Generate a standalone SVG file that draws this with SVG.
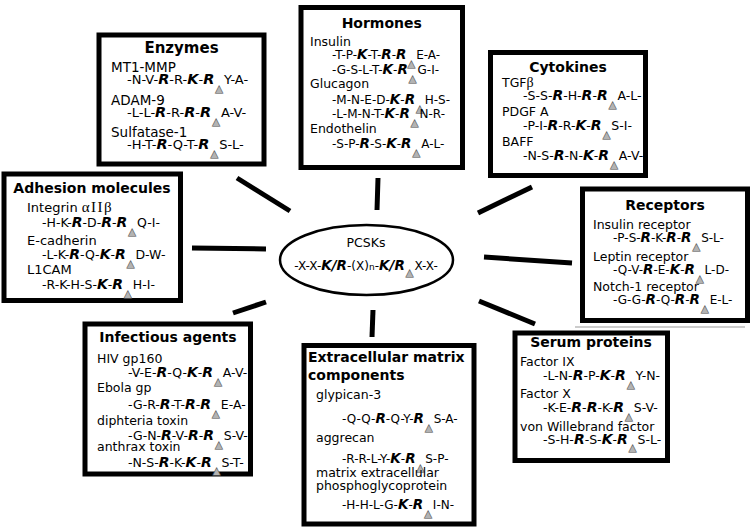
<svg xmlns="http://www.w3.org/2000/svg" width="750" height="530" viewBox="0 0 750 530">
<style>
.box{fill:#fff;stroke:#000;stroke-width:5}
.t{font-family:"DejaVu Sans",sans-serif;font-weight:bold;font-size:14px;text-anchor:middle;fill:#000}
.tl{font-family:"DejaVu Sans",sans-serif;font-weight:bold;font-size:14px;fill:#000}
.n{font-family:"DejaVu Sans",sans-serif;font-size:12.5px;fill:#000}
.s{font-family:"DejaVu Sans",sans-serif;font-size:12px;fill:#000}
.b{font-weight:bold;font-style:italic;font-size:13.5px}
.cs{font-size:10px;fill:#b3b3b3;stroke:#555;stroke-width:0.6}
.gr{font-family:"Liberation Serif",serif}
.con line{stroke:#000;stroke-width:5}
#enzymes .t{font-size:15px}
#enzymes .n{font-size:13.5px}
#enzymes .s{font-size:13px}
#enzymes .b{font-size:14.5px}
#cytokines .s,#adhesion .s,#infectious .s,#serum .s{font-size:12.5px}
#cytokines .b,#adhesion .b,#infectious .b,#serum .b{font-size:14px}
#adhesion .n{font-size:13px}
</style>
<rect width="750" height="530" fill="#fff"/>
<g class="con" id="connectors">
<line x1="237" y1="178" x2="290" y2="211"/>
<line x1="378" y1="178" x2="377" y2="210"/>
<line x1="532" y1="187" x2="478" y2="213"/>
<line x1="192" y1="248" x2="266" y2="249"/>
<line x1="484" y1="257" x2="572" y2="263"/>
<line x1="233" y1="313" x2="266" y2="302"/>
<line x1="373" y1="310" x2="372" y2="337"/>
<line x1="479" y1="301" x2="535" y2="324"/>
</g>
<g id="pcsks">
<ellipse cx="366.5" cy="260" rx="86.5" ry="35" fill="#fff" stroke="#000" stroke-width="2.5"/>
<text class="n" x="366" y="247" text-anchor="middle">PCSKs</text>
<text class="s" x="366" y="270" text-anchor="middle">-X-X-<tspan class="b" font-size="13px">K/R</tspan>-(X)<tspan font-size="9px">n</tspan>-<tspan class="b" font-size="13px">K/R</tspan><tspan class="cs" dx="1" dy="6">▲</tspan><tspan dx="1" dy="-6">X-X-</tspan></text>
</g>
<g id="enzymes">
<rect class="box" x="99" y="35" width="165" height="129"/>
<text class="t" x="181.5" y="53">Enzymes</text>
<text class="n" x="111" y="72">MT1-MMP</text>
<text class="s" x="127" y="84">-N-V-<tspan class="b">R</tspan>-R-<tspan class="b">K</tspan>-<tspan class="b">R</tspan><tspan class="cs" dx="1" dy="8">▲</tspan><tspan dx="1" dy="-8">Y-A-</tspan></text>
<text class="n" x="111" y="105">ADAM-9</text>
<text class="s" x="127" y="117">-L-L-<tspan class="b">R</tspan>-R-<tspan class="b">R</tspan>-<tspan class="b">R</tspan><tspan class="cs" dx="1" dy="8">▲</tspan><tspan dx="1" dy="-8">A-V-</tspan></text>
<text class="n" x="111" y="137">Sulfatase-1</text>
<text class="s" x="127" y="149">-H-T-<tspan class="b">R</tspan>-Q-T-<tspan class="b">R</tspan><tspan class="cs" dx="1" dy="8">▲</tspan><tspan dx="1" dy="-8">S-L-</tspan></text>
</g>
<g id="hormones">
<rect class="box" x="301" y="7.5" width="161.5" height="160"/>
<text class="t" x="381.75" y="28">Hormones</text>
<text class="n" x="310" y="46">Insulin</text>
<text class="s" x="332" y="59">-T-P-<tspan class="b">K</tspan>-T-<tspan class="b">R</tspan>-<tspan class="b">R</tspan><tspan class="cs" dx="1" dy="8">▲</tspan><tspan dx="1" dy="-8">E-A-</tspan></text>
<text class="s" x="332" y="74">-G-S-L-T-<tspan class="b">K</tspan>-<tspan class="b">R</tspan><tspan class="cs" dx="1" dy="8">▲</tspan><tspan dx="1" dy="-8">G-I-</tspan></text>
<text class="n" x="310" y="88">Glucagon</text>
<text class="s" x="332" y="104">-M-N-E-D-<tspan class="b">K</tspan>-<tspan class="b">R</tspan><tspan class="cs" dx="1" dy="8">▲</tspan><tspan dx="1" dy="-8">H-S-</tspan></text>
<text class="s" x="332" y="118">-L-M-N-T-<tspan class="b">K</tspan>-<tspan class="b">R</tspan><tspan class="cs" dx="1" dy="8">▲</tspan><tspan dx="1" dy="-8">N-R-</tspan></text>
<text class="n" x="310" y="133">Endothelin</text>
<text class="s" x="332" y="148">-S-P-<tspan class="b">R</tspan>-S-<tspan class="b">K</tspan>-<tspan class="b">R</tspan><tspan class="cs" dx="1" dy="8">▲</tspan><tspan dx="1" dy="-8">A-L-</tspan></text>
</g>
<g id="cytokines">
<rect class="box" x="490.5" y="52.5" width="155" height="123"/>
<text class="t" x="568" y="72">Cytokines</text>
<text class="n" x="502" y="87">TGF<tspan class="gr" font-size="14px">β</tspan></text>
<text class="s" x="523" y="100">-S-S-<tspan class="b">R</tspan>-H-<tspan class="b">R</tspan>-<tspan class="b">R</tspan><tspan class="cs" dx="1" dy="8">▲</tspan><tspan dx="1" dy="-8">A-L-</tspan></text>
<text class="n" x="502" y="116">PDGF A</text>
<text class="s" x="523" y="130">-P-I-<tspan class="b">R</tspan>-R-<tspan class="b">K</tspan>-<tspan class="b">R</tspan><tspan class="cs" dx="1" dy="8">▲</tspan><tspan dx="1" dy="-8">S-I-</tspan></text>
<text class="n" x="502" y="146">BAFF</text>
<text class="s" x="523" y="160">-N-S-<tspan class="b">R</tspan>-N-<tspan class="b">K</tspan>-<tspan class="b">R</tspan><tspan class="cs" dx="1" dy="8">▲</tspan><tspan dx="1" dy="-8">A-V-</tspan></text>
</g>
<g id="adhesion">
<rect class="box" x="4" y="174" width="176.5" height="126.5"/>
<text class="t" x="92" y="193">Adhesion molecules</text>
<text class="n" x="27" y="212">Integrin <tspan class="gr" font-size="15px" letter-spacing="1.5">αIIβ</tspan></text>
<text class="s" x="42" y="227">-H-K-<tspan class="b">R</tspan>-D-<tspan class="b">R</tspan>-<tspan class="b">R</tspan><tspan class="cs" dx="1" dy="8">▲</tspan><tspan dx="1" dy="-8">Q-I-</tspan></text>
<text class="n" x="27" y="245">E-cadherin</text>
<text class="s" x="42" y="259">-L-K-<tspan class="b">R</tspan>-Q-<tspan class="b">K</tspan>-<tspan class="b">R</tspan><tspan class="cs" dx="1" dy="8">▲</tspan><tspan dx="1" dy="-8">D-W-</tspan></text>
<text class="n" x="27" y="274">L1CAM</text>
<text class="s" x="42" y="289">-R-K-H-S-<tspan class="b">K</tspan>-<tspan class="b">R</tspan><tspan class="cs" dx="1" dy="8">▲</tspan><tspan dx="1" dy="-8">H-I-</tspan></text>
</g>
<g id="receptors">
<rect class="box" x="582.5" y="189" width="165" height="131.5"/>
<line x1="575" y1="327" x2="745" y2="327" stroke="#999" stroke-width="1"/>
<text class="t" x="665" y="210">Receptors</text>
<text class="n" x="593" y="229">Insulin receptor</text>
<text class="s" x="613" y="242">-P-S-<tspan class="b">R</tspan>-K-<tspan class="b">R</tspan>-<tspan class="b">R</tspan><tspan class="cs" dx="1" dy="8">▲</tspan><tspan dx="1" dy="-8">S-L-</tspan></text>
<text class="n" x="593" y="261">Leptin receptor</text>
<text class="s" x="613" y="274">-Q-V-<tspan class="b">R</tspan>-E-<tspan class="b">K</tspan>-<tspan class="b">R</tspan><tspan class="cs" dx="1" dy="8">▲</tspan><tspan dx="1" dy="-8">L-D-</tspan></text>
<text class="n" x="593" y="291">Notch-1 receptor</text>
<text class="s" x="613" y="304">-G-G-<tspan class="b">R</tspan>-Q-<tspan class="b">R</tspan>-<tspan class="b">R</tspan><tspan class="cs" dx="1" dy="8">▲</tspan><tspan dx="1" dy="-8">E-L-</tspan></text>
</g>
<g id="infectious">
<rect class="box" x="85" y="324" width="165.5" height="150"/>
<text class="t" x="168" y="342">Infectious agents</text>
<text class="n" x="97" y="363">HIV gp160</text>
<text class="s" x="128" y="377">-V-E-<tspan class="b">R</tspan>-Q-<tspan class="b">K</tspan>-<tspan class="b">R</tspan><tspan class="cs" dx="1" dy="8">▲</tspan><tspan dx="1" dy="-8">A-V-</tspan></text>
<text class="n" x="97" y="392">Ebola gp</text>
<text class="s" x="128" y="409">-G-R-<tspan class="b">R</tspan>-T-<tspan class="b">R</tspan>-<tspan class="b">R</tspan><tspan class="cs" dx="1" dy="8">▲</tspan><tspan dx="1" dy="-8">E-A-</tspan></text>
<text class="n" x="97" y="425">diphteria toxin</text>
<text class="s" x="128" y="440">-G-N-<tspan class="b">R</tspan>-V-<tspan class="b">R</tspan>-<tspan class="b">R</tspan><tspan class="cs" dx="1" dy="8">▲</tspan><tspan dx="1" dy="-8">S-V-</tspan></text>
<text class="n" x="97" y="451">anthrax toxin</text>
<text class="s" x="128" y="467">-N-S-<tspan class="b">R</tspan>-K-<tspan class="b">K</tspan>-<tspan class="b">R</tspan><tspan class="cs" dx="1" dy="7">▲</tspan><tspan dx="1" dy="-7">S-T-</tspan></text>
</g>
<g id="extracellular">
<rect class="box" x="304" y="345.5" width="170" height="178.5"/>
<text class="tl" x="308" y="362">Extracellular matrix</text>
<text class="tl" x="308" y="380">components</text>
<text class="n" x="316" y="399">glypican-3</text>
<text class="s" x="342" y="423">-Q-Q-<tspan class="b">R</tspan>-Q-Y-<tspan class="b">R</tspan><tspan class="cs" dx="1" dy="8">▲</tspan><tspan dx="1" dy="-8">S-A-</tspan></text>
<text class="n" x="316" y="442">aggrecan</text>
<text class="s" x="342" y="463">-R-R-L-Y-<tspan class="b">K</tspan>-<tspan class="b">R</tspan><tspan class="cs" dx="1" dy="8">▲</tspan><tspan dx="1" dy="-8">S-P-</tspan></text>
<text class="n" x="316" y="477">matrix extracellular</text>
<text class="n" x="316" y="490">phosphoglycoprotein</text>
<text class="s" x="342" y="509">-H-H-L-G-<tspan class="b">K</tspan>-<tspan class="b">R</tspan><tspan class="cs" dx="1" dy="8">▲</tspan><tspan dx="1" dy="-8">I-N-</tspan></text>
</g>
<g id="serum">
<rect class="box" x="515" y="333" width="152.5" height="127.5"/>
<text class="t" x="591" y="347">Serum proteins</text>
<text class="n" x="520" y="366">Factor IX</text>
<text class="s" x="543" y="380">-L-N-<tspan class="b">R</tspan>-P-<tspan class="b">K</tspan>-<tspan class="b">R</tspan><tspan class="cs" dx="1" dy="8">▲</tspan><tspan dx="1" dy="-8">Y-N-</tspan></text>
<text class="n" x="520" y="398">Factor X</text>
<text class="s" x="543" y="412">-K-E-<tspan class="b">R</tspan>-<tspan class="b">R</tspan>-K-<tspan class="b">R</tspan><tspan class="cs" dx="1" dy="8">▲</tspan><tspan dx="1" dy="-8">S-V-</tspan></text>
<text class="n" x="520" y="431">von Willebrand factor</text>
<text class="s" x="543" y="444">-S-H-<tspan class="b">R</tspan>-S-<tspan class="b">K</tspan>-<tspan class="b">R</tspan><tspan class="cs" dx="1" dy="7">▲</tspan><tspan dx="1" dy="-7">S-L-</tspan></text>
</g>
</svg>
